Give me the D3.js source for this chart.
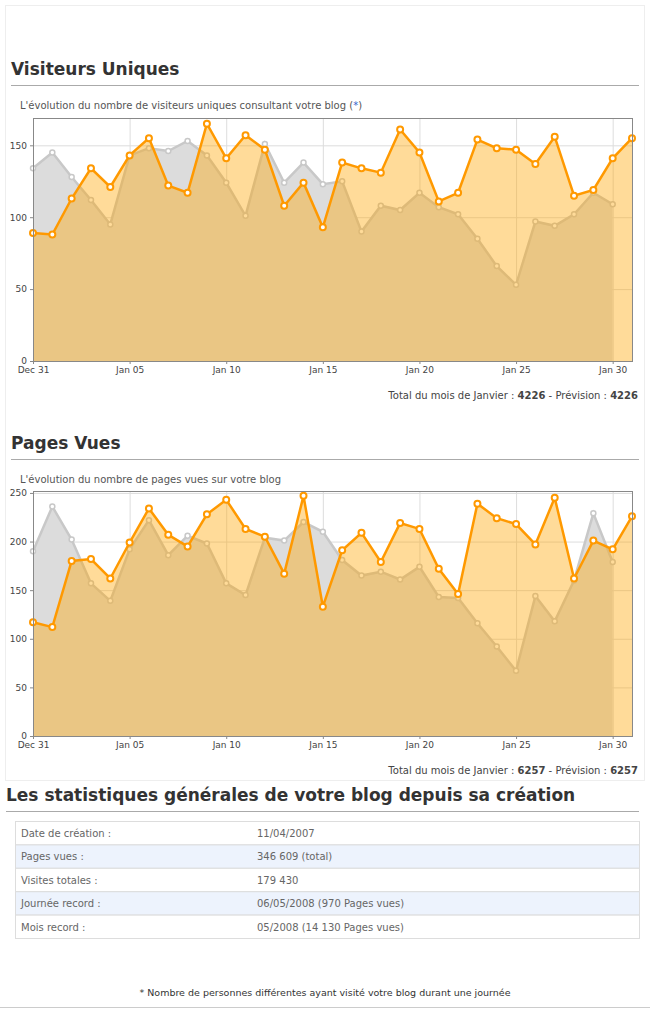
<!DOCTYPE html>
<html><head><meta charset="utf-8">
<script src="https://cdn.jsdelivr.net/npm/d3@7"></script>
<style>
body{margin:0;background:#fff;font-family:"DejaVu Sans",sans-serif;}
svg text{font-family:"DejaVu Sans",sans-serif;}
</style></head><body>
<svg id="c" width="650" height="1009"></svg>
<script>
const xTicks = ['Dec 31','Jan 05','Jan 10','Jan 15','Jan 20','Jan 25','Jan 30'];
const visitsPrev = [134,145,128,112,95,143,148,146,153,143,124,101,151,124,138,123,125,90,108,105,117,107,102,85,66,53,97,94,102,117,109];
const visitsCur = [89,88,113,134,121,143,155,122,117,165,141,157,147,108,124,93,138,134,131,161,145,111,117,154,148,147,137,156,115,119,141,155];
const pagesPrev = [190,236,202,157,139,192,222,186,206,198,157,145,204,201,220,210,181,165,169,161,174,143,142,116,92,67,144,118,160,229,179];
const pagesCur = [117,112,180,182,162,199,234,207,195,228,243,213,205,167,247,133,191,209,179,219,213,172,146,239,224,218,197,245,162,201,192,226];
const statsLabels = ['Date de création :','Pages vues :','Visites totales :','Journée record :','Mois record :'];
const statsValues = ['11/04/2007','346 609 (total)','179 430','06/05/2008 (970 Pages vues)','05/2008 (14 130 Pages vues)'];

const svg = d3.select('#c');
svg.append('rect').attr('x',5.5).attr('y',5.5).attr('width',639).attr('height',775).attr('fill','none').attr('stroke','#eee');

function section(title, y, x0){
  svg.append('text').attr('x',x0).attr('y',y).attr('font-size',17).attr('font-weight','bold').attr('fill','#333').text(title);
  svg.append('line').attr('x1',x0).attr('x2',639).attr('y1',y+10.5).attr('y2',y+10.5).attr('stroke','#aaa');
}

function chart(o){
  section(o.title, o.top, 11);
  const st = svg.append('text').attr('x',20).attr('y',o.top+34).attr('font-size',10).attr('fill','#555').text(o.sub);
  if(o.star){ st.append('tspan').text('('); st.append('tspan').attr('fill','#36c').text('*'); st.append('tspan').text(')'); }
  const x = d3.scaleLinear().domain([0,31]).range([33,632]);
  const y = d3.scaleLinear().domain([0,o.max]).range([o.bottom,o.plotTop]);
  const g = svg.append('g');
  // grid
  g.selectAll('.hg').data(o.yt).join('line').attr('x1',33).attr('x2',632).attr('y1',d=>y(d)+.5).attr('y2',d=>y(d)+.5).attr('stroke','#ddd');
  g.selectAll('.vg').data(d3.range(0,31,5)).join('line').attr('y1',o.plotTop).attr('y2',o.bottom).attr('x1',d=>x(d)+.5).attr('x2',d=>x(d)+.5).attr('stroke','#ddd');
  const area = d3.area().x((d,i)=>x(i)).y0(o.bottom).y1(d=>y(d));
  const line = d3.line().x((d,i)=>x(i)).y(d=>y(d));
  g.append('path').datum(o.prev).attr('d',area).attr('fill','#dcdcdc');
  g.append('path').datum(o.prev).attr('d',line).attr('fill','none').attr('stroke','#c8c8c8').attr('stroke-width',2.5);
  g.selectAll('.pp').data(o.prev).join('circle').attr('cx',(d,i)=>x(i)).attr('cy',d=>y(d)).attr('r',2.5).attr('fill','#fff').attr('stroke','#c8c8c8').attr('stroke-width',1.5);
  g.append('path').datum(o.cur).attr('d',area).attr('fill','rgba(255,165,0,0.4)');
  g.append('path').datum(o.cur).attr('d',line).attr('fill','none').attr('stroke','#f90').attr('stroke-width',2.5);
  g.selectAll('.cp').data(o.cur).join('circle').attr('cx',(d,i)=>x(i)).attr('cy',d=>y(d)).attr('r',3).attr('fill','#fff').attr('stroke','#f90').attr('stroke-width',2);
  g.append('rect').attr('x',33.5).attr('y',o.plotTop+.5).attr('width',599).attr('height',o.bottom-o.plotTop).attr('fill','none').attr('stroke','#888');
  const ya = svg.append('g').attr('transform','translate(33,0)').call(d3.axisLeft(y).tickValues(o.yt).tickSize(3).tickFormat(d3.format('d')));
  const xa = svg.append('g').attr('transform',`translate(0,${o.bottom})`).call(d3.axisBottom(x).tickValues(d3.range(0,31,5)).tickSize(3).tickFormat((d,i)=>xTicks[i]));
  [ya,xa].forEach(a=>{a.select('.domain').remove();a.selectAll('line').attr('stroke','#888');a.selectAll('text').attr('font-size',9).attr('fill','#444');});
  const ft = svg.append('text').attr('x',638).attr('y',o.bottom+38).attr('text-anchor','end').attr('font-size',10).attr('fill','#444');
  ft.append('tspan').text('Total du mois de Janvier : ');
  ft.append('tspan').attr('font-weight','bold').text(d3.sum(o.cur));
  ft.append('tspan').text(' - Prévision : ');
  ft.append('tspan').attr('font-weight','bold').text(d3.sum(o.cur));
}

chart({title:'Visiteurs Uniques',top:75,sub:"L'évolution du nombre de visiteurs uniques consultant votre blog ",star:true,
  prev:visitsPrev,cur:visitsCur,max:169,plotTop:118,bottom:361,yt:[0,50,100,150]});
chart({title:'Pages Vues',top:449,sub:"L'évolution du nombre de pages vues sur votre blog",star:false,
  prev:pagesPrev,cur:pagesCur,max:252,plotTop:491,bottom:736,yt:[0,50,100,150,200,250]});

section('Les statistiques générales de votre blog depuis sa création',801,6);
const rowH = 23.4;
const rows = svg.append('g').selectAll('g').data(statsLabels).join('g').attr('transform',(d,i)=>`translate(0,${821+i*rowH})`);
rows.append('rect').attr('x',15.5).attr('y',.5).attr('width',624).attr('height',rowH).attr('fill',(d,i)=>i%2?'#edf3fd':'#fff').attr('stroke','#ddd');
rows.append('text').attr('x',21).attr('y',16).attr('font-size',10).attr('fill','#666').text(d=>d);
rows.append('text').attr('x',257).attr('y',16).attr('font-size',10).attr('fill','#666').text((d,i)=>statsValues[i]);

svg.append('text').attr('x',325).attr('y',996).attr('text-anchor','middle').attr('font-size',9.5).attr('fill','#333')
  .text('* Nombre de personnes différentes ayant visité votre blog durant une journée');
svg.append('line').attr('x1',0).attr('x2',650).attr('y1',1007.5).attr('y2',1007.5).attr('stroke','#ccc');
</script></body></html>
